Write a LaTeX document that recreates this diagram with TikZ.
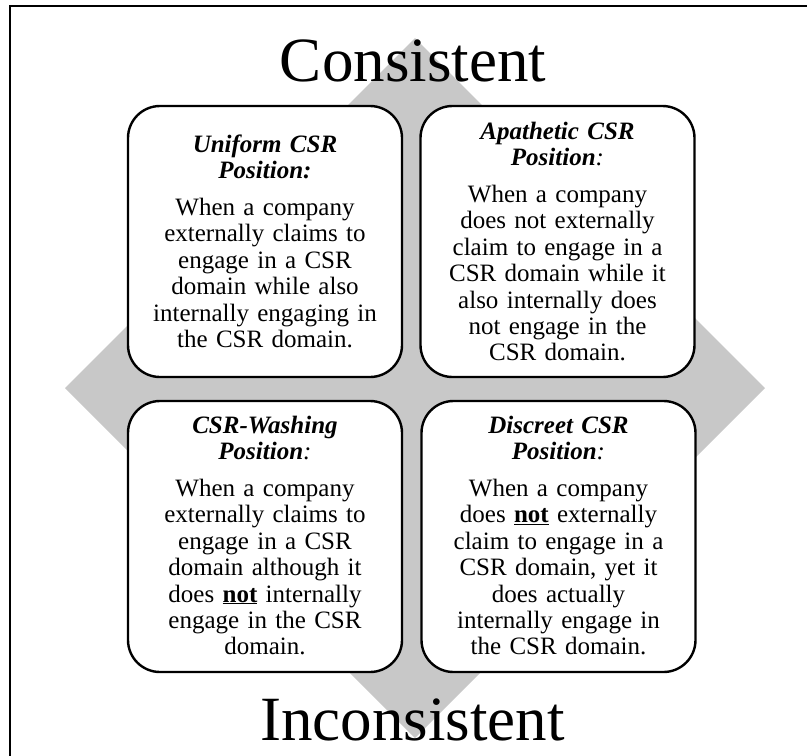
\documentclass[tikz,border=0pt]{standalone}
\usepackage{fontspec}
\setmainfont{Liberation Serif}
\definecolor{diamondgray}{RGB}{200,200,200}
\newcommand{\postitle}[1]{{\bfseries\itshape #1}}
\begin{document}
\begin{tikzpicture}[x=1pt,y=-1pt,
  quadbox/.style={draw=black,line width=2.4pt,fill=white,rounded corners=32pt,
    minimum width=274pt,minimum height=271pt,inner sep=0pt},
  quadtext/.style={align=center,text width=270pt,inner sep=0pt,anchor=base,
    font=\fontsize{25}{26.4}\selectfont},
  axislabel/.style={font=\fontsize{63}{70}\selectfont,inner sep=0pt,anchor=base}]
\useasboundingbox (0,0) rectangle (807,756);
% outer frame
\draw[line width=2pt] (10,6) rectangle (812,762);
% grey diamond behind the quadrants
\fill[diamondgray] (415,38) -- (765,388) -- (415,738) -- (65,388) -- cycle;
% axis labels
\node[axislabel] (cons) at (413,81) {Consistent};
\node[axislabel] (incons) at (412.5,740) {Inconsistent};
% quadrant boxes
\node[quadbox] (uniform) at (265,241.5) {};
\node[quadbox] (apathetic) at (557.5,241.5) {};
\node[quadbox] (washing) at (265,536.5) {};
\node[quadbox] (discreet) at (558.5,536.5) {};
% quadrant texts
\node[quadtext] (uniformtxt) at (265,152) {\postitle{Uniform CSR}\\[-0.4pt]
  \postitle{Position:}\\[11pt]
  When a company\\ externally claims to\\ engage in a CSR\\ domain while also\\
  internally engaging in\\ the CSR domain.};
\node[quadtext] (apathetictxt) at (557.5,139) {\postitle{Apathetic CSR}\\[-0.4pt]
  \postitle{Position}\textit{:}\\[11pt]
  When a company\\ does not externally\\ claim to engage in a\\ CSR domain while it\\
  also internally does\\ not engage in the\\ CSR domain.};
\node[quadtext] (washingtxt) at (265,433) {\postitle{CSR-Washing}\\[-0.4pt]
  \postitle{Position}\textit{:}\\[11pt]
  When a company\\ externally claims to\\ engage in a CSR\\ domain although it\\
  does \underline{\textbf{not}} internally\\ engage in the CSR\\ domain.};
\node[quadtext] (discreettxt) at (558.5,433) {\postitle{Discreet CSR}\\[-0.4pt]
  \postitle{Position}\textit{:}\\[11pt]
  When a company\\ does \underline{\textbf{not}} externally\\ claim to engage in a\\
  CSR domain, yet it\\ does actually\\ internally engage in\\ the CSR domain.};
\end{tikzpicture}
\end{document}
